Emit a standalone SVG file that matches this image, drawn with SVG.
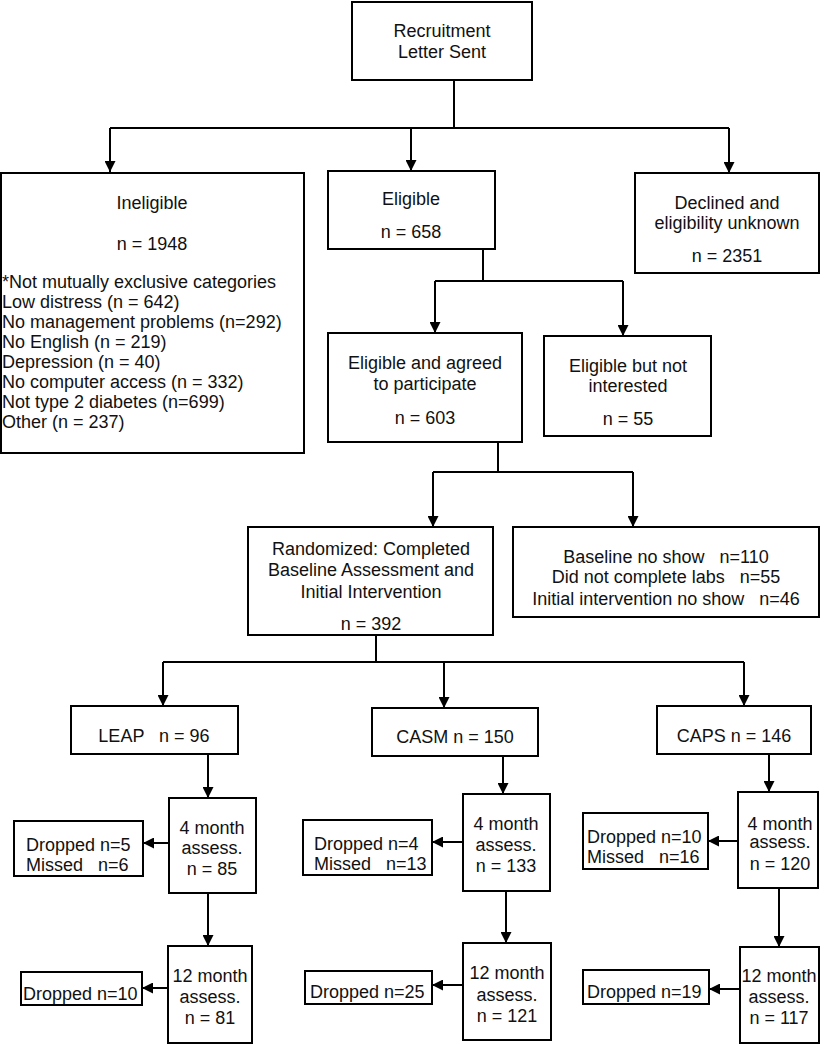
<svg xmlns="http://www.w3.org/2000/svg" width="827" height="1044" viewBox="0 0 827 1044">
<defs>
<style>
.box{fill:#fff;stroke:#000;stroke-width:2}
.ln{fill:none;stroke:#000;stroke-width:2}
.ar{fill:none;stroke:#000;stroke-width:2;marker-end:url(#ah)}
text{font-family:"Liberation Sans",Arial,Helvetica,sans-serif;font-size:18px;fill:#111;white-space:pre}
.c{text-anchor:middle}
</style>
<marker id="ah" markerUnits="userSpaceOnUse" markerWidth="11" markerHeight="11" refX="11" refY="5.5" orient="auto">
<path d="M0,0 L11,5.5 L0,11 z" fill="#000"/>
</marker>
</defs>
<rect width="827" height="1044" fill="#fff"/>
<g id="connectors">
<path class="ln" d="M454,80 V128 M110,128 H729"/>
<path class="ar" d="M110,128 V172"/>
<path class="ar" d="M411,128 V171"/>
<path class="ar" d="M729,128 V173"/>
<path class="ln" d="M483,249 V281 M435,281 H623"/>
<path class="ar" d="M435,281 V333"/>
<path class="ar" d="M623,281 V336"/>
<path class="ln" d="M498,442 V472 M433,472 H633"/>
<path class="ar" d="M433,472 V527"/>
<path class="ar" d="M633,472 V527"/>
<path class="ln" d="M376,635 V662 M163,662 H744"/>
<path class="ar" d="M163,662 V706"/>
<path class="ar" d="M444,662 V708"/>
<path class="ar" d="M744,662 V706"/>
<path class="ar" d="M208,754 V798"/>
<path class="ar" d="M169,843 H143"/>
<path class="ar" d="M208,893 V946"/>
<path class="ar" d="M168,988 H142"/>
<path class="ar" d="M503,756 V794"/>
<path class="ar" d="M463,842 H432"/>
<path class="ar" d="M506,891 V943"/>
<path class="ar" d="M463,985 H432"/>
<path class="ar" d="M769,754 V792"/>
<path class="ar" d="M738,841 H708"/>
<path class="ar" d="M779,888 V947"/>
<path class="ar" d="M740,989 H709"/>
</g>
<g id="recruitment">
<rect class="box" x="352" y="2" width="180" height="78"/>
<text class="c" x="442" y="37">Recruitment</text>
<text class="c" x="442" y="58">Letter Sent</text>
</g>
<g id="ineligible">
<rect class="box" x="1" y="173" width="303" height="280"/>
<text class="c" x="152" y="209">Ineligible</text>
<text class="c" x="152" y="250">n = 1948</text>
<text x="2" y="288">*Not mutually exclusive categories</text>
<text x="2" y="308">Low distress (n = 642)</text>
<text x="2" y="328">No management problems (n=292)</text>
<text x="2" y="348">No English (n = 219)</text>
<text x="2" y="368">Depression (n = 40)</text>
<text x="2" y="388">No computer access (n = 332)</text>
<text x="2" y="408">Not type 2 diabetes (n=699)</text>
<text x="2" y="428">Other (n = 237)</text>
</g>
<g id="eligible">
<rect class="box" x="328" y="171" width="167" height="78"/>
<text class="c" x="411" y="205">Eligible</text>
<text class="c" x="411" y="238">n = 658</text>
</g>
<g id="declined">
<rect class="box" x="635" y="173" width="184" height="100"/>
<text class="c" x="727" y="209">Declined and</text>
<text class="c" x="727" y="229">eligibility unknown</text>
<text class="c" x="727" y="262">n = 2351</text>
</g>
<g id="agreed">
<rect class="box" x="328" y="333" width="194" height="109"/>
<text class="c" x="425" y="369">Eligible and agreed</text>
<text class="c" x="425" y="390">to participate</text>
<text class="c" x="425" y="424">n = 603</text>
</g>
<g id="notinterested">
<rect class="box" x="544" y="336" width="167" height="100"/>
<text class="c" x="628" y="372">Eligible but not</text>
<text class="c" x="628" y="392">interested</text>
<text class="c" x="628" y="425">n = 55</text>
</g>
<g id="randomized">
<rect class="box" x="248" y="527" width="245" height="108"/>
<text class="c" x="371" y="555">Randomized: Completed</text>
<text class="c" x="371" y="576">Baseline Assessment and</text>
<text class="c" x="371" y="598">Initial Intervention</text>
<text class="c" x="371" y="630">n = 392</text>
</g>
<g id="noshow">
<rect class="box" x="513" y="527" width="306" height="90"/>
<text class="c" x="666" y="563">Baseline no show   n=110</text>
<text class="c" x="666" y="583">Did not complete labs   n=55</text>
<text class="c" x="666" y="605">Initial intervention no show   n=46</text>
</g>
<g id="leap">
<rect class="box" x="71" y="706" width="167" height="48"/>
<text class="c" x="154" y="742">LEAP   n = 96</text>
</g>
<g id="casm">
<rect class="box" x="372" y="708" width="166" height="48"/>
<text class="c" x="455" y="743">CASM n = 150</text>
</g>
<g id="caps">
<rect class="box" x="657" y="706" width="154" height="48"/>
<text class="c" x="734" y="742">CAPS n = 146</text>
</g>
<g id="leap4">
<rect class="box" x="169" y="798" width="87" height="95"/>
<text class="c" x="212" y="834">4 month</text>
<text class="c" x="212" y="854">assess.</text>
<text class="c" x="212" y="875">n = 85</text>
</g>
<g id="leap4drop">
<rect class="box" x="14" y="821" width="129" height="55"/>
<text x="26" y="851">Dropped n=5</text>
<text x="26" y="871">Missed   n=6</text>
</g>
<g id="leap12">
<rect class="box" x="168" y="946" width="84" height="97"/>
<text class="c" x="210" y="982">12 month</text>
<text class="c" x="210" y="1003">assess.</text>
<text class="c" x="210" y="1024">n = 81</text>
</g>
<g id="leap12drop">
<rect class="box" x="21" y="972" width="121" height="33"/>
<text x="23" y="1000">Dropped n=10</text>
</g>
<g id="casm4">
<rect class="box" x="463" y="794" width="87" height="97"/>
<text class="c" x="506" y="830">4 month</text>
<text class="c" x="506" y="851">assess.</text>
<text class="c" x="506" y="872">n = 133</text>
</g>
<g id="casm4drop">
<rect class="box" x="303" y="820" width="129" height="55"/>
<text x="314" y="850">Dropped n=4</text>
<text x="314" y="870">Missed   n=13</text>
</g>
<g id="casm12">
<rect class="box" x="463" y="943" width="88" height="97"/>
<text class="c" x="507" y="979">12 month</text>
<text class="c" x="507" y="1001">assess.</text>
<text class="c" x="507" y="1022">n = 121</text>
</g>
<g id="casm12drop">
<rect class="box" x="305" y="971" width="127" height="33"/>
<text x="310" y="998">Dropped n=25</text>
</g>
<g id="caps4">
<rect class="box" x="738" y="792" width="80" height="96"/>
<text class="c" x="780" y="830">4 month</text>
<text class="c" x="780" y="848">assess.</text>
<text class="c" x="780" y="870">n = 120</text>
</g>
<g id="caps4drop">
<rect class="box" x="583" y="813" width="125" height="56"/>
<text x="587" y="843">Dropped n=10</text>
<text x="587" y="863">Missed   n=16</text>
</g>
<g id="caps12">
<rect class="box" x="740" y="947" width="79" height="96"/>
<text class="c" x="779" y="982">12 month</text>
<text class="c" x="779" y="1003">assess.</text>
<text class="c" x="779" y="1024">n = 117</text>
</g>
<g id="caps12drop">
<rect class="box" x="583" y="970" width="126" height="34"/>
<text x="587" y="998">Dropped n=19</text>
</g>
</svg>
